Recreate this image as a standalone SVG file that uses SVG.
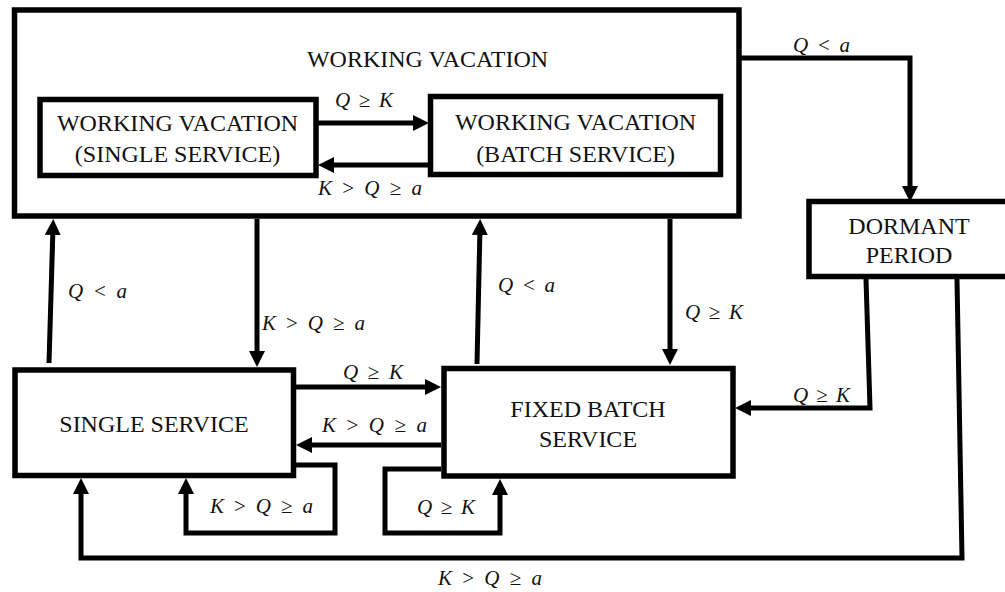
<svg xmlns="http://www.w3.org/2000/svg" width="1005" height="592" viewBox="0 0 1005 592">
<style>
.box{fill:#fff;stroke:#000;stroke-width:5.5}
.n{font-family:"Liberation Serif","Times New Roman",Tinos,serif;font-size:24px;fill:#111;text-anchor:middle}
.c{fill:none;stroke:#000;stroke-width:5;marker-end:url(#ah)}
.m{font-family:"Liberation Serif","Times New Roman",Tinos,serif;font-size:21px;fill:#111}
.i{font-style:italic}
</style>
<defs>
<marker id="ah" markerUnits="userSpaceOnUse" markerWidth="17" markerHeight="17" refX="8" refY="8" orient="auto" viewBox="0 0 17 16">
<path d="M0,0 L16,8 L0,16 z" fill="#000"/>
</marker>
</defs>
<rect width="1005" height="592" fill="#fff"/>
<g id="wv">
<rect class="box" x="14.5" y="10" width="724.5" height="206"/>
<text class="n" x="427.5" y="67">WORKING VACATION</text>
</g>
<g id="wv-single">
<rect class="box" x="40" y="99.5" width="276" height="76"/>
<text class="n" x="177.5" y="131">WORKING VACATION</text>
<text class="n" x="177.5" y="162">(SINGLE SERVICE)</text>
</g>
<g id="wv-batch">
<rect class="box" x="430.5" y="96.5" width="290" height="78"/>
<text class="n" x="575.5" y="130">WORKING VACATION</text>
<text class="n" x="575.5" y="162">(BATCH SERVICE)</text>
</g>
<g id="dormant">
<rect class="box" x="809" y="201.5" width="199" height="75"/>
<text class="n" x="909" y="234">DORMANT</text>
<text class="n" x="909" y="263">PERIOD</text>
</g>
<g id="single">
<rect class="box" x="15" y="370" width="278.5" height="105.5"/>
<text class="n" x="154" y="432">SINGLE SERVICE</text>
</g>
<g id="fixed">
<rect class="box" x="444" y="368.5" width="289" height="107.5"/>
<text class="n" x="588" y="417">FIXED BATCH</text>
<text class="n" x="588" y="447">SERVICE</text>
</g>
<g id="connectors">
<path class="c" d="M316,123 H421"/>
<path class="c" d="M431,165 H326"/>
<path class="c" d="M739,58 H910 V194"/>
<path class="c" d="M49,363 L53,227"/>
<path class="c" d="M257,219 V359"/>
<path class="c" d="M477,364 L480,227"/>
<path class="c" d="M670,219 V357"/>
<path class="c" d="M296,387 H433"/>
<path class="c" d="M441,445 H304"/>
<path class="c" d="M296,465 H335 V533 H186 V486"/>
<path class="c" d="M441,469 H385 V533 H500 V487"/>
<path class="c" d="M866,279 L870,408 H743"/>
<path class="c" d="M957,279 L962,558 H81 V486"/>
</g>
<g id="labels">
<text class="m" x="335" y="107" textLength="58" lengthAdjust="spacing"><tspan class="i">Q</tspan> ≥ <tspan class="i">K</tspan></text>
<text class="m" x="318" y="195" textLength="104" lengthAdjust="spacing"><tspan class="i">K</tspan> &gt; <tspan class="i">Q</tspan> ≥ <tspan class="i">a</tspan></text>
<text class="m" x="793" y="52" textLength="57" lengthAdjust="spacing"><tspan class="i">Q</tspan> &lt; <tspan class="i">a</tspan></text>
<text class="m" x="68" y="298" textLength="59" lengthAdjust="spacing"><tspan class="i">Q</tspan> &lt; <tspan class="i">a</tspan></text>
<text class="m" x="262" y="330" textLength="103" lengthAdjust="spacing"><tspan class="i">K</tspan> &gt; <tspan class="i">Q</tspan> ≥ <tspan class="i">a</tspan></text>
<text class="m" x="343" y="379" textLength="60" lengthAdjust="spacing"><tspan class="i">Q</tspan> ≥ <tspan class="i">K</tspan></text>
<text class="m" x="498" y="292" textLength="57" lengthAdjust="spacing"><tspan class="i">Q</tspan> &lt; <tspan class="i">a</tspan></text>
<text class="m" x="685" y="319" textLength="58" lengthAdjust="spacing"><tspan class="i">Q</tspan> ≥ <tspan class="i">K</tspan></text>
<text class="m" x="322" y="432" textLength="105" lengthAdjust="spacing"><tspan class="i">K</tspan> &gt; <tspan class="i">Q</tspan> ≥ <tspan class="i">a</tspan></text>
<text class="m" x="210" y="513" textLength="103" lengthAdjust="spacing"><tspan class="i">K</tspan> &gt; <tspan class="i">Q</tspan> ≥ <tspan class="i">a</tspan></text>
<text class="m" x="417" y="514" textLength="58" lengthAdjust="spacing"><tspan class="i">Q</tspan> ≥ <tspan class="i">K</tspan></text>
<text class="m" x="793" y="402" textLength="57" lengthAdjust="spacing"><tspan class="i">Q</tspan> ≥ <tspan class="i">K</tspan></text>
<text class="m" x="438" y="585" textLength="104" lengthAdjust="spacing"><tspan class="i">K</tspan> &gt; <tspan class="i">Q</tspan> ≥ <tspan class="i">a</tspan></text>
</g>
</svg>
